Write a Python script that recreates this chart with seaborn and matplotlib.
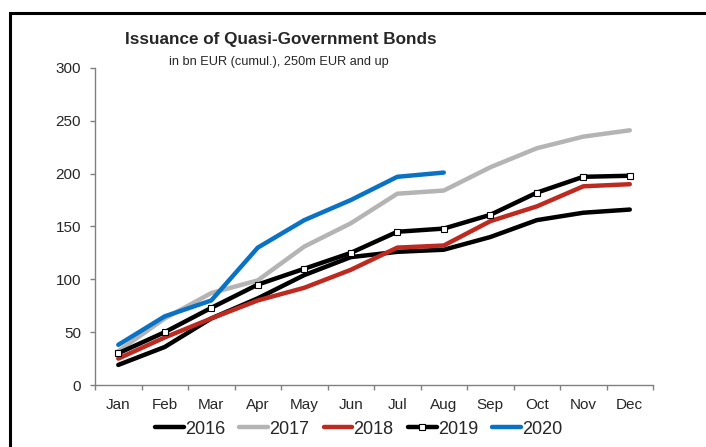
import pandas as pd
import seaborn as sns
import matplotlib.pyplot as plt
from matplotlib.patches import Rectangle

months = ["Jan", "Feb", "Mar", "Apr", "May", "Jun", "Jul", "Aug", "Sep", "Oct", "Nov", "Dec"]
y2016 = [19, 36, 63, 82, 104, 121, 126, 128, 140, 156, 163, 166]
y2017 = [32, 63, 87, 99, 131, 153, 181, 184, 206, 224, 235, 241]
y2018 = [25, 45, 63, 80, 92, 109, 130, 132, 155, 169, 188, 190]
y2019 = [30, 50, 73, 95, 110, 125, 145, 148, 161, 182, 197, 198]
y2020 = [38, 65, 80, 130, 156, 175, 197, 201]

series = {"2016": y2016, "2017": y2017, "2018": y2018, "2019": y2019, "2020": y2020}
colors = {"2016": "black", "2017": "#b4b4b4", "2018": "#be2a20", "2019": "black", "2020": "#0a72c4"}

sns.set_theme(style="white")
plt.rcParams["font.family"] = ["Liberation Sans", "DejaVu Sans"]

fig = plt.figure(figsize=(7.06, 4.47), dpi=100)
ax = fig.add_axes([0.1346, 0.1387, 0.7904, 0.7093])

for year, vals in series.items():
    df = pd.DataFrame({"month": months[:len(vals)], "value": vals})
    if year == "2019":
        sns.lineplot(data=df, x="month", y="value", color=colors[year], lw=3.2,
                     marker="s", markersize=4, markerfacecolor="white",
                     markeredgecolor="black", markeredgewidth=0.8,
                     label=year, ax=ax, solid_joinstyle="round", solid_capstyle="round")
    else:
        sns.lineplot(data=df, x="month", y="value", color=colors[year], lw=3.2,
                     label=year, ax=ax, solid_joinstyle="round", solid_capstyle="round")

ax.set_xlim(-0.5, 11.5)
ax.set_ylim(0, 300)
ax.set_yticks(range(0, 301, 50))
ax.set_xticks([i - 0.5 for i in range(13)], minor=True)
ax.set_xticks(range(12))
ax.set_xticklabels(months)
ax.tick_params(axis="x", which="major", length=0, labelsize=11, pad=9)
ax.tick_params(axis="x", which="minor", length=3.6, color="#808080", width=1, bottom=True)
ax.tick_params(axis="y", length=3.6, color="#808080", width=1, left=True, labelsize=11, pad=6.5)
ax.set_xlabel("")
ax.set_ylabel("")
for s in ["top", "right"]:
    ax.spines[s].set_visible(False)
for s in ["left", "bottom"]:
    ax.spines[s].set_color("#808080")
    ax.spines[s].set_linewidth(1)

ax.get_legend().remove()
handles, labels = ax.get_legend_handles_labels()
fig.legend(handles, labels, loc="center", bbox_to_anchor=(0.508, 0.04), ncol=5,
           frameon=False, fontsize=13, handlelength=1.6, handletextpad=0.05,
           columnspacing=0.8, borderpad=0)

fig.text(0.398, 0.912, "Issuance of Quasi-Government Bonds", ha="center", va="center",
         fontsize=12.3, fontweight="bold")
fig.text(0.3945, 0.861, "in bn EUR (cumul.), 250m EUR and up", ha="center", va="center",
         fontsize=9.2)

fig.patches.append(Rectangle((0.0135, -0.05), 1.1, 1.02, transform=fig.transFigure,
                             fill=False, edgecolor="black", linewidth=2.2))

fig.savefig("out.png", dpi=100)
